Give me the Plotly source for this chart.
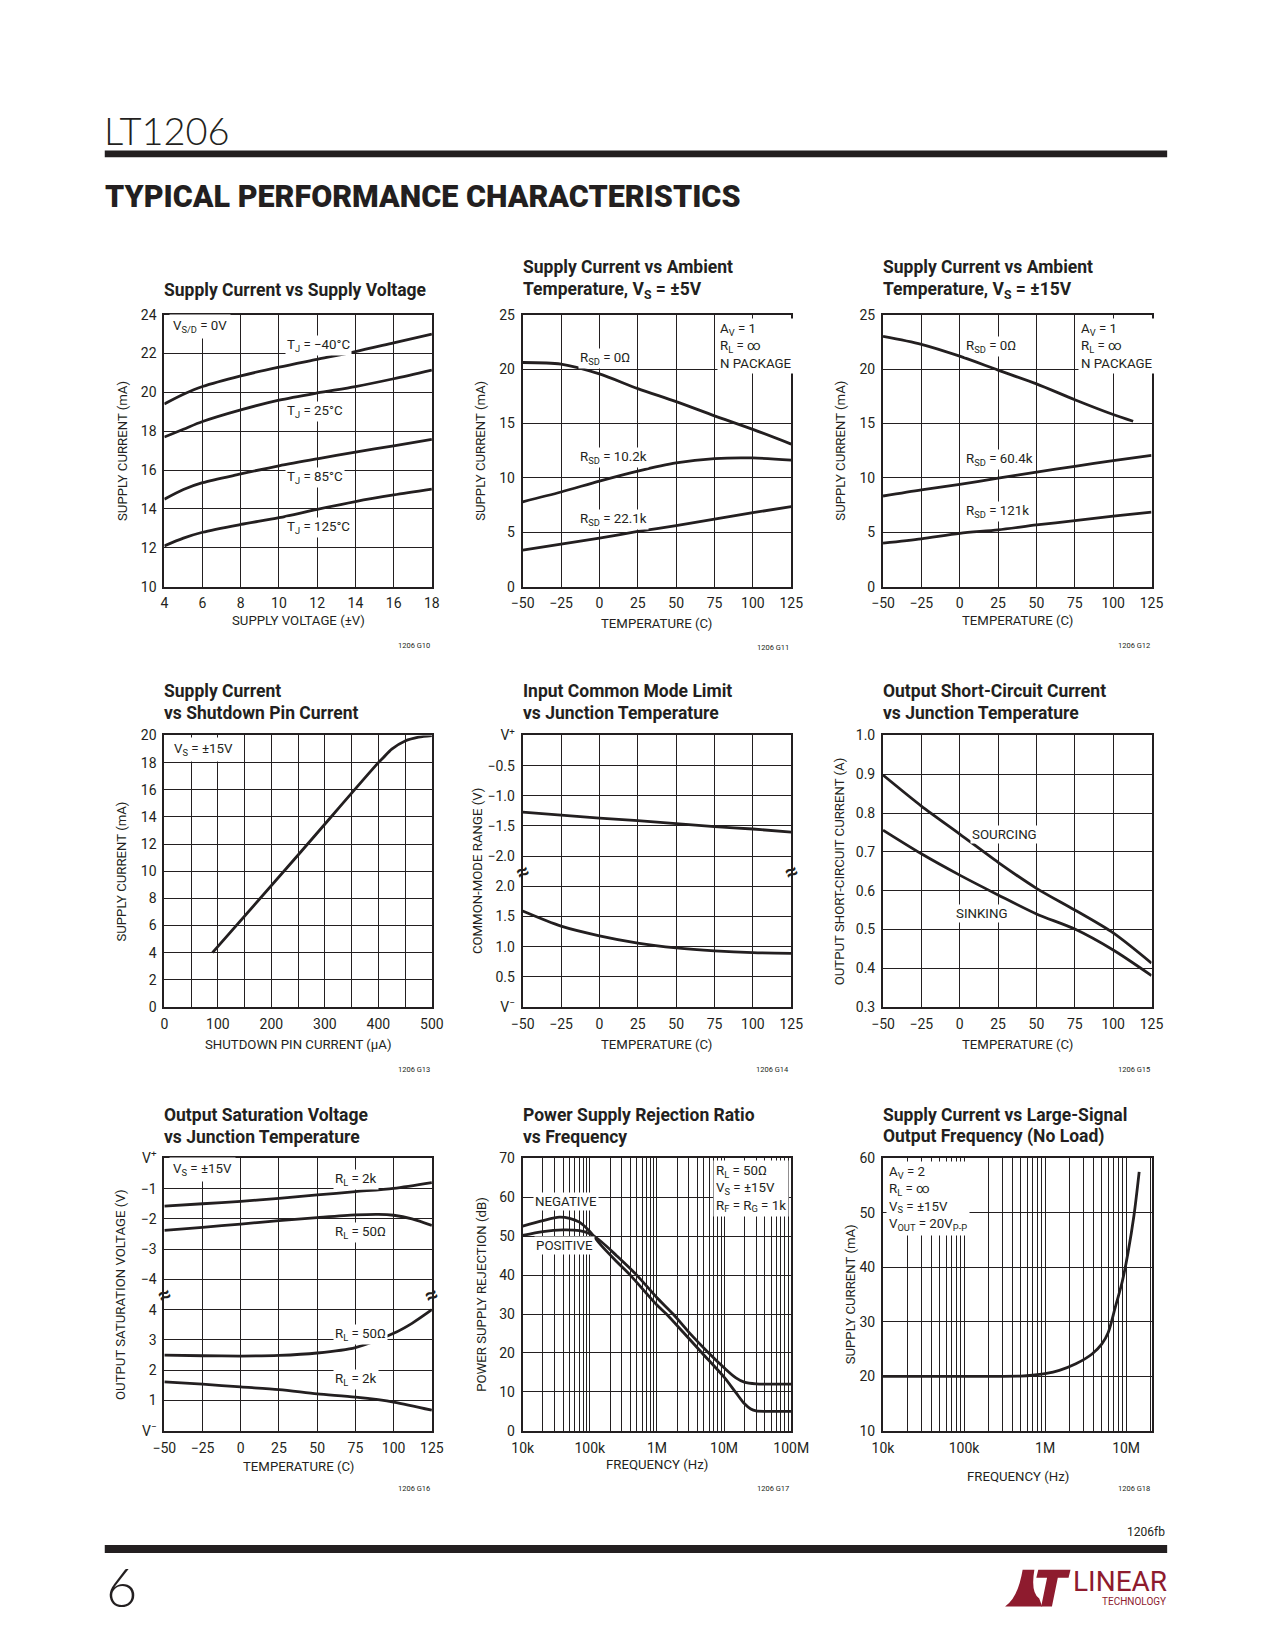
import math
import plotly.graph_objects as go

W, H = 1275, 1650
INK = "#231f20"
FONT = "Roboto, Liberation Sans, sans-serif"
THIN = "Lato, Liberation Sans, sans-serif"
LOGO = "#8e1b2e"

# ---------------- data ----------------
# 1 Supply current vs supply voltage
c1_v = [4, 5, 6, 8, 10, 12, 14, 16, 18]
c1_m40 = [19.4, 19.9, 20.3, 20.85, 21.3, 21.7, 22.1, 22.55, 23.0]
c1_25 = [17.7, 18.1, 18.5, 19.1, 19.6, 19.97, 20.3, 20.7, 21.15]
c1_85 = [14.5, 15.0, 15.35, 15.8, 16.22, 16.58, 16.92, 17.25, 17.58]
c1_125 = [12.1, 12.5, 12.8, 13.2, 13.55, 13.98, 14.38, 14.72, 15.02]

# 2 Supply current vs temperature, Vs=+-5V
c2_t = [-50, -25, 0, 25, 50, 75, 100, 125]
c2_r0 = [20.6, 20.45, 19.55, 18.2, 17.0, 15.7, 14.45, 13.1]
c2_r10 = [7.8, 8.7, 9.7, 10.62, 11.38, 11.77, 11.83, 11.62]
c2_r22 = [3.35, 3.9, 4.46, 5.07, 5.6, 6.2, 6.8, 7.35]

# 3 Supply current vs temperature, Vs=+-15V
c3_t0 = [-50, -25, 0, 25, 50, 75, 100, 113]
c3_r0 = [23.0, 22.27, 21.18, 19.9, 18.64, 17.18, 15.82, 15.2]
c3_t = [-50, -25, 0, 25, 50, 75, 100, 125]
c3_r60 = [8.33, 8.9, 9.4, 9.97, 10.52, 11.06, 11.58, 12.07]
c3_r121 = [4.0, 4.4, 4.9, 5.22, 5.67, 6.06, 6.48, 6.85]

# 4 Supply current vs shutdown pin current
c4_i = [90, 250, 400, 410, 425, 450, 475, 500]
c4_s = [4.0, 11.2, 18.0, 18.4, 19.0, 19.6, 19.88, 20.0]

# 5 Input common mode limit (upper: below V+, lower: above V-)
c5_t = [-50, -25, 0, 25, 50, 75, 100, 125]
c5_up = [-1.27, -1.32, -1.37, -1.41, -1.46, -1.51, -1.55, -1.6]
c5_lo = [1.59, 1.34, 1.18, 1.06, 0.98, 0.93, 0.90, 0.89]
c5_ticks = ["V<sup>\u2212</sup>", "0.5", "1.0", "1.5", "2.0",
            "\u22122.0", "\u22121.5", "\u22121.0", "\u22120.5", "V<sup>+</sup>"]

# 6 Output short-circuit current
c6_t = [-50, -25, 0, 25, 50, 75, 100, 125]
c6_src = [0.898, 0.818, 0.746, 0.673, 0.606, 0.550, 0.491, 0.413]
c6_snk = [0.756, 0.695, 0.640, 0.589, 0.540, 0.501, 0.447, 0.381]

# 7 Output saturation voltage
c7_t = [-50, -25, 0, 25, 50, 75, 100, 125]
c7_2k_hi = [-1.58, -1.5, -1.42, -1.32, -1.21, -1.1, -0.99, -0.8]
c7_t50h = [-50, -25, 0, 25, 50, 75, 90, 100, 112, 125]
c7_50_hi = [-2.38, -2.28, -2.17, -2.06, -1.96, -1.87, -1.85, -1.88, -2.0, -2.22]
c7_t50l = [-50, -25, 0, 25, 50, 75, 100, 112, 125]
c7_50_lo = [2.5, 2.48, 2.47, 2.49, 2.57, 2.75, 3.22, 3.55, 4.0]
c7_2k_lo = [1.62, 1.54, 1.45, 1.36, 1.22, 1.11, 0.95, 0.68]
c7_ticks = ["V<sup>\u2212</sup>", "1", "2", "3", "4",
            "\u22124", "\u22123", "\u22122", "\u22121", "V<sup>+</sup>"]

# 8 PSRR vs frequency
c8_fn = [1e4, 2e4, 3.5e4, 5e4, 7e4, 1e5, 1.5e5, 2.5e5, 4e5, 1e6, 1.38e6, 2.5e6,
         4.7e6, 1e7, 1.5e7, 2e7, 2.5e7, 3e7, 5e7, 1e8]
c8_neg = [52.6, 54.0, 54.9, 54.6, 53.6, 51.2, 47.5, 43.5, 40.0, 32.3, 30.0, 25.2,
          20.0, 13.8, 9.8, 7.0, 5.6, 5.1, 5.0, 5.0]
c8_fp = [1e4, 2e4, 4e4, 7e4, 1e5, 1.5e5, 2.5e5, 5e5, 1e6, 1.74e6, 3e6, 5.9e6,
         1e7, 1.5e7, 2e7, 3e7, 5e7, 1e8]
c8_pos = [50.2, 51.2, 51.6, 51.4, 50.6, 48.5, 45.0, 40.0, 34.2, 30.0, 25.3, 20.0,
          16.2, 13.6, 12.5, 12.05, 12.0, 12.0]

# 9 Supply current vs large-signal frequency
c9_f = [1e4, 1e5, 5e5, 7e5, 1e6, 1.5e6, 2.4e6, 3.8e6, 5e6, 6e6, 7.3e6, 9e6,
        1.05e7, 1.25e7, 1.45e7]
c9_i = [20.0, 20.0, 20.05, 20.2, 20.5, 21.1, 22.3, 24.1, 25.9, 28.0, 32.5, 37.5,
        42.5, 49.5, 57.5]

freq_vals = [1e4, 1e5, 1e6, 1e7, 1e8]
freq_text = ["10k", "100k", "1M", "10M", "100M"]

# ---------------- layout geometry (pixels) ----------------
cols = [(156, 430), (523, 798), (892, 1167)]
rows = [(308, 583), (733.5, 1008), (1161, 1436.5)]

TICK = 14
AXT = 13.2
LBL = 13.3
TTL = 17.5


def px(x):
    return x / W


def py(y):
    return 1 - y / H


fig = go.Figure()
layout = dict(width=W, height=H, margin=dict(l=0, r=0, t=0, b=0),
              paper_bgcolor="white", plot_bgcolor="white", showlegend=False,
              font=dict(family=FONT, color=INK, size=LBL))
annotations = []
shapes = []


def base_axis(**kw):
    d = dict(showgrid=True, gridcolor=INK, gridwidth=1, showline=True,
             linecolor=INK, linewidth=2, mirror=True, zeroline=False,
             ticks="", tickfont=dict(family=FONT, size=TICK, color=INK),
             fixedrange=True)
    d.update(kw)
    return d


def setup(i, r, c, xa, ya):
    x0, x1 = cols[c]
    y0, y1 = rows[r]
    xa = base_axis(domain=[px(x0), px(x1)], anchor=f"y{i}", ticklabelstandoff=3, **xa)
    ya = base_axis(domain=[py(y1), py(y0)], anchor=f"x{i}", ticklabelstandoff=3, **ya)
    layout["xaxis" if i == 1 else f"xaxis{i}"] = xa
    layout["yaxis" if i == 1 else f"yaxis{i}"] = ya


def line(i, x, y, w=2.8):
    fig.add_trace(go.Scatter(x=x, y=y, mode="lines", xaxis=f"x{i}", yaxis=f"y{i}",
                             line=dict(color=INK, width=w, shape="spline", smoothing=0.8),
                             hoverinfo="skip"))


def ann(text, x, y, xref="paper", yref="paper", size=LBL, xanchor="left",
        yanchor="middle", bg=None, family=FONT, angle=0, align="left", pad=1,
        color=INK, weight=None):
    f = dict(family=family, size=size, color=color)
    if weight:
        f["weight"] = weight
    a = dict(text=text, x=x, y=y, xref=xref, yref=yref, showarrow=False,
             xanchor=xanchor, yanchor=yanchor, textangle=angle, align=align,
             font=f, borderpad=pad)
    if bg:
        a["bgcolor"] = bg
    annotations.append(a)


def titles(c, r, lines):
    ys = {0: [260.3, 283.5], 1: [689, 711], 2: [1117, 1139]}[r]
    if len(lines) == 1:
        ys = ys[1:]
    for t, yy in zip(lines, ys):
        ann(f"<b>{t}</b>", px(cols[c][0] - 2), py(yy), size=TTL)


def xtitle(c, yy, text):
    ann(text, px((cols[c][0] + cols[c][1]) / 2), py(yy), size=AXT, xanchor="center")


def ytitle(xx, r, text):
    ann(text, px(xx), py((rows[r][0] + rows[r][1]) / 2), size=AXT, xanchor="center", angle=-90)


def fig_id(c, yy, text):
    ann(text, px(cols[c][1]), py(yy), size=7.5, xanchor="right")


def brk(i):
    for xv in (-50, 125):
        ann("<b>\u2248</b>", xv, 4.5, f"x{i}", f"y{i}", size=22, xanchor="center", angle=-25)


temp_ticks = list(range(-50, 126, 25))
temp_text = [("\u2212" + str(-t)) if t < 0 else str(t) for t in temp_ticks]

# ---- chart 1
setup(1, 0, 0, dict(range=[4, 18], tickvals=list(range(4, 19, 2))),
      dict(range=[10, 24], tickvals=list(range(10, 25, 2))))
for s in (c1_m40, c1_25, c1_85, c1_125):
    line(1, c1_v, s)
titles(0, 0, ["Supply Current vs Supply Voltage"])
xtitle(0, 617, "SUPPLY VOLTAGE (\u00b1V)")
ytitle(113, 0, "SUPPLY CURRENT (mA)")
fig_id(0, 643, "1206 G10")
ann("V<sub>S/D</sub> = 0V", px(161), py(320), bg="white", pad=3)
for t, yv in (("\u221240\u00b0C", 22.4), ("25\u00b0C", 19.0), ("85\u00b0C", 15.6), ("125\u00b0C", 13.03)):
    ann(f"T<sub>J</sub> = {t}", 10.3, yv, "x", "y", bg="white")

# ---- chart 2
setup(2, 0, 1, dict(range=[-50, 125], tickvals=temp_ticks, ticktext=temp_text),
      dict(range=[0, 25], tickvals=list(range(0, 26, 5))))
for s in (c2_r0, c2_r10, c2_r22):
    line(2, c2_t, s)
titles(1, 0, ["Supply Current vs Ambient", "Temperature, V<sub>S</sub> = \u00b15V"])
xtitle(1, 620, "TEMPERATURE (C)")
ytitle(479.5, 0, "SUPPLY CURRENT (mA)")
fig_id(1, 645, "1206 G11")
ann("A<sub>V</sub> = 1<br>R<sub>L</sub> = \u221e<br>N PACKAGE", px(722), py(311),
    yanchor="top", bg="white", pad=2)
for t, yv in (("0\u03a9", 21.0), ("10.2k", 11.9), ("22.1k", 6.13)):
    ann(f"R<sub>SD</sub> = {t}", -14, yv, "x2", "y2", bg="white")

# ---- chart 3
setup(3, 0, 2, dict(range=[-50, 125], tickvals=temp_ticks, ticktext=temp_text),
      dict(range=[0, 25], tickvals=list(range(0, 26, 5))))
line(3, c3_t0, c3_r0)
line(3, c3_t, c3_r60)
line(3, c3_t, c3_r121)
titles(2, 0, ["Supply Current vs Ambient", "Temperature, V<sub>S</sub> = \u00b115V"])
xtitle(2, 617.6, "TEMPERATURE (C)")
ytitle(849, 0, "SUPPLY CURRENT (mA)")
fig_id(2, 643, "1206 G12")
ann("A<sub>V</sub> = 1<br>R<sub>L</sub> = \u221e<br>N PACKAGE", px(1092), py(311),
    yanchor="top", bg="white", pad=2)
for t, yv in (("0\u03a9", 22.03), ("60.4k", 11.73), ("121k", 6.87)):
    ann(f"R<sub>SD</sub> = {t}", 2.6, yv, "x3", "y3", bg="white")

# ---- chart 4
c4_ticks = list(range(0, 501, 50))
setup(4, 1, 0, dict(range=[0, 500], tickvals=c4_ticks,
                    ticktext=[str(v) if v % 100 == 0 else "" for v in c4_ticks]),
      dict(range=[0, 20], tickvals=list(range(0, 21, 2))))
line(4, c4_i, c4_s)
titles(0, 1, ["Supply Current", "vs Shutdown Pin Current"])
xtitle(0, 1045.5, "SHUTDOWN PIN CURRENT (\u00b5A)")
ytitle(112, 1, "SUPPLY CURRENT (mA)")
fig_id(0, 1071, "1206 G13")
ann("V<sub>S</sub> = \u00b115V", px(162), py(748), bg="white", pad=3)

# ---- chart 5 (broken axis: positions 0..9, 0.5 V per division)
setup(5, 1, 1, dict(range=[-50, 125], tickvals=temp_ticks, ticktext=temp_text),
      dict(range=[0, 9], tickvals=list(range(10)), ticktext=c5_ticks))
line(5, c5_t, [9 + 2 * v for v in c5_up])
line(5, c5_t, [2 * v for v in c5_lo])
titles(1, 1, ["Input Common Mode Limit", "vs Junction Temperature"])
xtitle(1, 1045.5, "TEMPERATURE (C)")
ytitle(476, 1, "COMMON-MODE RANGE (V)")
fig_id(1, 1071, "1206 G14")
brk(5)

# ---- chart 6
setup(6, 1, 2, dict(range=[-50, 125], tickvals=temp_ticks, ticktext=temp_text),
      dict(range=[0.3, 1.0], tickvals=[0.3, 0.4, 0.5, 0.6, 0.7, 0.8, 0.9, 1.0],
           tickformat=".1f"))
line(6, c6_t, c6_src)
line(6, c6_t, c6_snk)
titles(2, 1, ["Output Short-Circuit Current", "vs Junction Temperature"])
xtitle(2, 1045.5, "TEMPERATURE (C)")
ytitle(847, 1, "OUTPUT SHORT-CIRCUIT CURRENT (A)")
fig_id(2, 1071, "1206 G15")
ann("SOURCING", 6.9, 0.746, "x6", "y6", bg="white")
ann("SINKING", -3.7, 0.542, "x6", "y6", bg="white")

# ---- chart 7 (broken axis: positions 0..9, 1 V per division)
setup(7, 2, 0, dict(range=[-50, 125], tickvals=temp_ticks, ticktext=temp_text),
      dict(range=[0, 9], tickvals=list(range(10)), ticktext=c7_ticks))
line(7, c7_t, [9 + v for v in c7_2k_hi])
line(7, c7_t50h, [9 + v for v in c7_50_hi])
line(7, c7_t50l, c7_50_lo)
line(7, c7_t, c7_2k_lo)
titles(0, 2, ["Output Saturation Voltage", "vs Junction Temperature"])
xtitle(0, 1473, "TEMPERATURE (C)")
ytitle(111, 2, "OUTPUT SATURATION VOLTAGE (V)")
fig_id(0, 1494.5, "1206 G16")
ann("V<sub>S</sub> = \u00b115V", px(161), py(1172), bg="white", pad=3)
for t, pv in (("2k", 8.29), ("50\u03a9", 6.54), ("50\u03a9", 3.18), ("2k", 1.7)):
    ann(f"R<sub>L</sub> = {t}", 60, pv, "x7", "y7", bg="white")
brk(7)

# ---- chart 8 (log x)
minor8 = [m * 10 ** d for d in range(4, 8) for m in range(2, 10)]
setup(8, 2, 1, dict(type="log", range=[4, 8], tickvals=freq_vals, ticktext=freq_text,
                    minor=dict(tickvals=minor8, showgrid=True, gridcolor=INK, gridwidth=1)),
      dict(range=[0, 70], tickvals=list(range(0, 71, 10))))
line(8, c8_fn, c8_neg)
line(8, c8_fp, c8_pos)
titles(1, 2, ["Power Supply Rejection Ratio", "vs Frequency"])
xtitle(1, 1471, "FREQUENCY (Hz)")
ytitle(480.5, 2, "POWER SUPPLY REJECTION (dB)")
fig_id(1, 1494.5, "1206 G17")
ann("R<sub>L</sub> = 50\u03a9<br>V<sub>S</sub> = \u00b115V<br>R<sub>F</sub> = R<sub>G</sub> = 1k",
    px(718), py(1163), yanchor="top", bg="white", pad=2)
ann("NEGATIVE", 4.647, 59, "x8", "y8", xanchor="center", bg="white")
ann("POSITIVE", 4.618, 47.5, "x8", "y8", xanchor="center", bg="white")

# ---- chart 9 (log x)
minor9 = [m * 10 ** d for d in range(4, 8) for m in range(2, 10) if m * 10 ** d < 2.06e7]
setup(9, 2, 2, dict(type="log", range=[4, math.log10(2.06e7)], tickvals=freq_vals[:4],
                    ticktext=freq_text[:4],
                    minor=dict(tickvals=minor9, showgrid=True, gridcolor=INK, gridwidth=1)),
      dict(range=[10, 60], tickvals=list(range(10, 61, 10))))
line(9, c9_f, c9_i)
titles(2, 2, ["Supply Current vs Large-Signal", "Output Frequency (No Load)"])
ann("FREQUENCY (Hz)", px(1030), py(1483), size=AXT, xanchor="center")
ytitle(859, 2, "SUPPLY CURRENT (mA)")
fig_id(2, 1494.5, "1206 G18")
ann("A<sub>V</sub> = 2<br>R<sub>L</sub> = \u221e<br>V<sub>S</sub> = \u00b115V<br>V<sub>OUT</sub> = 20V<sub>P-P</sub>",
    px(895), py(1164), yanchor="top", bg="white", pad=2)

# ---------------- page decorations ----------------
ann("LT1206", px(92), py(121), size=38, family=THIN, weight=300)
ann("TYPICAL PERFORMANCE CHARACTERISTICS", px(93), py(189), size=30.5,
    family="Roboto, Liberation Sans, sans-serif", weight=900)
ann("1206fb", px(1183), py(1538.5), size=12, xanchor="right")
ann("6", px(94), py(1594), size=54, family=THIN, weight=300)
ann("LINEAR", px(1185), py(1589), size=28, color=LOGO, xanchor="right",
    family="Roboto, Liberation Sans, sans-serif")
ann("TECHNOLOGY", px(1184), py(1609), size=10, color=LOGO, xanchor="right")

for (y0, y1) in ((142, 149), (1552, 1560)):
    shapes.append(dict(type="rect", xref="paper", yref="paper", x0=px(95), x1=px(1183),
                       y0=py(y1), y1=py(y0), fillcolor=INK, line=dict(width=0)))


def path(points, cmds):
    out = []
    for cmd, pts in zip(cmds, points):
        coords = " ".join(f"{px(x):.5f},{py(y):.5f}" for x, y in pts)
        out.append(f"{cmd} {coords}")
    return " ".join(out) + " Z"


swoosh = path([[(1017, 1614)], [(1030, 1606), (1035, 1577)], [(1047, 1577)],
               [(1043, 1600), (1052, 1606)], [(1055, 1614)]], ["M", "Q", "L", "Q", "L"])
tee = path([[(1051, 1577)], [(1084, 1577)], [(1082, 1585)], [(1071, 1585)], [(1065, 1614)],
            [(1054, 1614)], [(1060, 1585)], [(1049, 1585)]],
           ["M", "L", "L", "L", "L", "L", "L", "L"])
for pth in (swoosh, tee):
    shapes.append(dict(type="path", xref="paper", yref="paper", path=pth,
                       fillcolor=LOGO, line=dict(width=0)))

layout["annotations"] = annotations
layout["shapes"] = shapes
fig.update_layout(**layout)
fig.write_html("out.html", config=dict(displayModeBar=False),
               post_script="document.body.style.margin='0';document.body.style.overflow='hidden';")
